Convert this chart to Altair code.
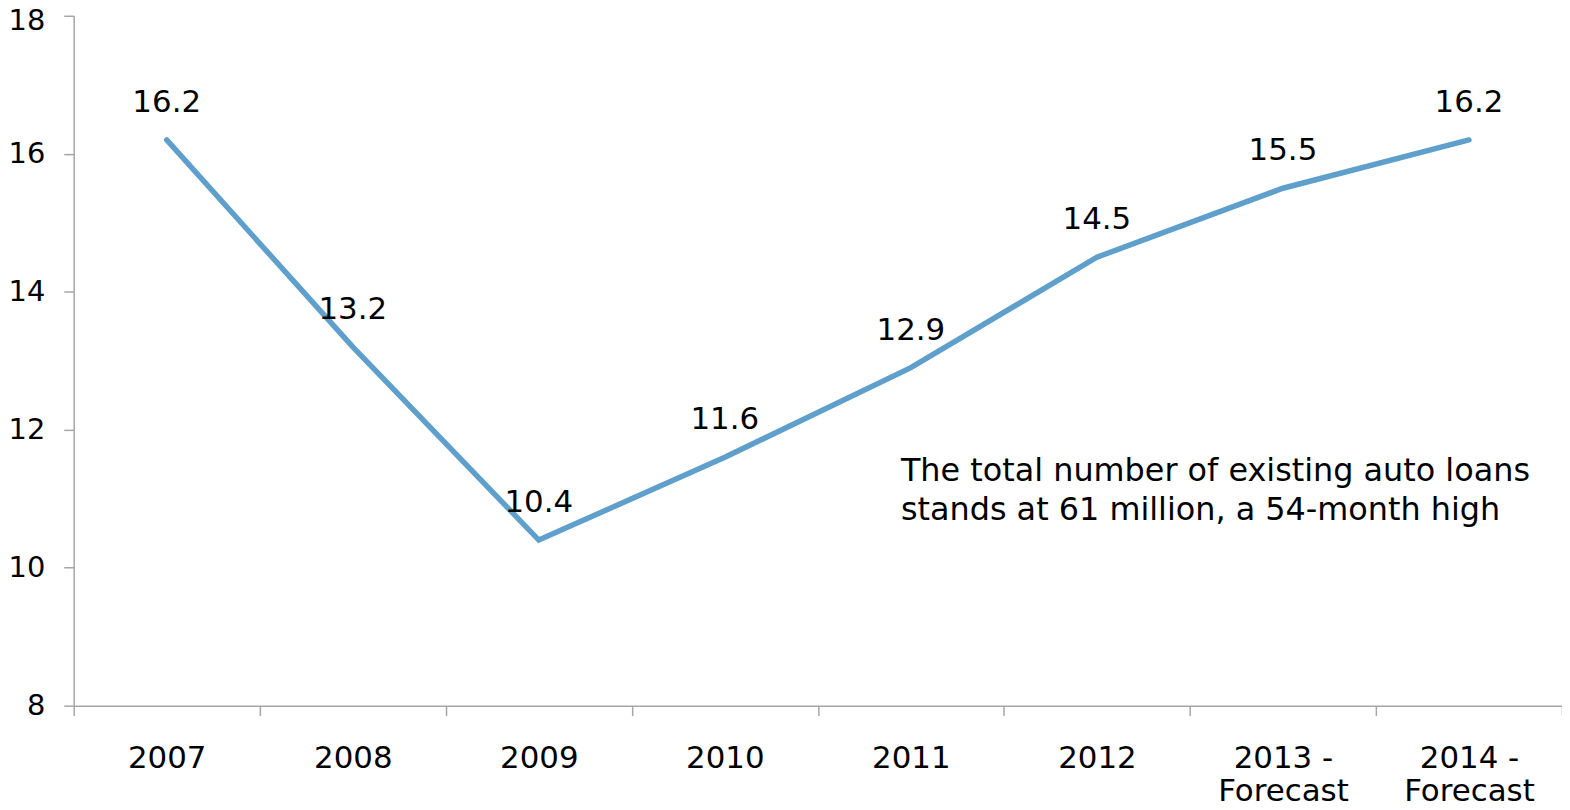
import altair as alt
import pandas as pd

categories = ["2007", "2008", "2009", "2010", "2011", "2012", "2013 -\nForecast", "2014 -\nForecast"]
values = [16.2, 13.2, 10.4, 11.6, 12.9, 14.5, 15.5, 16.2]
note_text = "The total number of existing auto loans\nstands at 61 million, a 54-month high"
note_category = "2011"
note_value = 11.4

FONT = "DejaVu Sans"
LINE = "#5f9fcc"
AXIS = "#a6a6a6"

df = pd.DataFrame({"cat": categories, "val": values})
note_df = pd.DataFrame({"cat": [note_category], "val": [note_value], "txt": [note_text]})

x_enc = alt.X(
    "cat:N",
    sort=categories,
    scale=alt.Scale(paddingInner=0, paddingOuter=0),
    axis=alt.Axis(
        title=None,
        labelAngle=0,
        labelFont=FONT,
        labelFontSize=31,
        labelColor="black",
        labelExpr="split(datum.label, '\\n')",
        labelLineHeight=33,
        labelPadding=28,
        labelBaseline="top",
        tickBand="extent",
        tickSize=10,
        tickColor=AXIS,
        domainColor=AXIS,
        domainWidth=1.5,
        tickWidth=1.5,
        grid=False,
    ),
)
y_enc = alt.Y(
    "val:Q",
    scale=alt.Scale(domain=[8, 18], nice=False, zero=False),
    axis=alt.Axis(
        title=None,
        values=[8, 10, 12, 14, 16, 18],
        format="d",
        labelFont=FONT,
        labelFontSize=29,
        labelColor="black",
        labelPadding=19,
        labelOffset={"condition": {"test": "datum.value == 18", "value": 5}, "value": 0},
        tickSize=10,
        tickColor=AXIS,
        domainColor=AXIS,
        domainWidth=1.5,
        tickWidth=1.5,
        grid=False,
    ),
)

base = alt.Chart(df)
line = base.mark_line(color=LINE, strokeWidth=5.5, strokeCap="round").encode(x=x_enc, y=y_enc)
labels = base.mark_text(font=FONT, fontSize=31, color="black", dy=-37, baseline="middle").encode(
    x=alt.X("cat:N", sort=categories), y="val:Q", text=alt.Text("val:Q", format=".1f")
)
note = alt.Chart(note_df).mark_text(
    font=FONT, fontSize=32, color="black", align="left", baseline="middle",
    lineBreak="\n", lineHeight=39, dx=-10
).encode(x=alt.X("cat:N", sort=categories), y="val:Q", text="txt:N")

chart = (
    alt.layer(line, labels, note)
    .properties(
        width=1495,
        height=693,
        padding={"left": 66, "top": 6, "right": 0, "bottom": 95},
        autosize=alt.AutoSizeParams(type="none"),
    )
    .configure_view(stroke=None)
)

chart.save("out.html", embed_options={"renderer": "svg", "actions": False})
